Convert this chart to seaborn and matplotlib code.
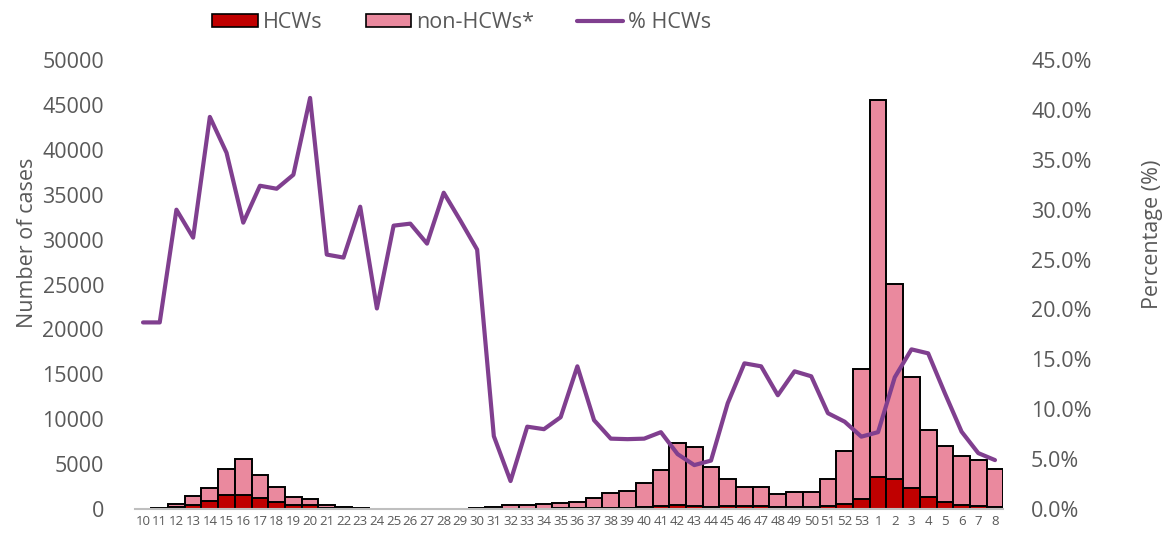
import numpy as np
import pandas as pd
import seaborn as sns
import matplotlib.pyplot as plt
from matplotlib.patches import Patch
from matplotlib.lines import Line2D
from matplotlib.ticker import FuncFormatter

# -------------------------------------------------
# Data
# -------------------------------------------------
weeks = [str(w) for w in range(10, 54)] + [str(w) for w in range(1, 9)]

hcws = [7, 19, 180, 400, 930, 1590, 1600, 1230, 800, 460,
        445, 115, 65, 33, 8, 9, 9, 11, 13, 14,
        18, 14, 11, 39, 45, 62, 112, 109, 125, 138,
        207, 334, 404, 305, 228, 350, 358, 350, 190, 266,
        247, 317, 568, 1131, 3511, 3332, 2357, 1377, 818, 457,
        306, 218]

non_hcws = [33, 81, 420, 1080, 1440, 2860, 3970, 2560, 1680, 910,
            635, 335, 195, 77, 32, 21, 21, 29, 27, 36,
            52, 176, 399, 431, 515, 608, 668, 1111, 1655, 1832,
            2723, 4006, 6946, 6635, 4482, 2950, 2092, 2100, 1480, 1664,
            1613, 2983, 5922, 14469, 42089, 21718, 12373, 7453, 6232, 5443,
            5154, 4232]

pct_hcws = [18.7, 18.7, 30.0, 27.2, 39.3, 35.7, 28.7, 32.4, 32.1, 33.5,
            41.2, 25.5, 25.2, 30.3, 20.1, 28.4, 28.6, 26.6, 31.7, 28.9,
            26.0, 7.3, 2.8, 8.25, 8.0, 9.2, 14.3, 8.9, 7.05, 7.0,
            7.05, 7.7, 5.5, 4.4, 4.85, 10.6, 14.6, 14.3, 11.4, 13.8,
            13.3, 9.6, 8.75, 7.25, 7.7, 13.2, 16.0, 15.6, 11.6, 7.75,
            5.6, 4.9]

df = pd.DataFrame({"week": weeks, "hcws": hcws, "non_hcws": non_hcws,
                   "pct": pct_hcws})
df["total"] = df["hcws"] + df["non_hcws"]

# -------------------------------------------------
# Style
# -------------------------------------------------
sns.set_style("white")
plt.rcParams["font.family"] = ["Open Sans", "DejaVu Sans"]

red = "#C00000"
pink = "#EA899E"
purple = "#803F8F"
grey_txt = "#595959"
fs = 15.5

fig = plt.figure(figsize=(11.66, 5.36), dpi=100)
ax = fig.add_axes([0.1155, 0.0504, 0.745, 0.8376])

# stacked bars: total (pink) behind, HCWs (red) in front
sns.barplot(data=df, x="week", y="total", order=weeks, color=pink,
            saturation=1, edgecolor="black", linewidth=1.4, width=1.0, ax=ax)
sns.barplot(data=df, x="week", y="hcws", order=weeks, color=red,
            saturation=1, edgecolor="black", linewidth=1.4, width=1.0, ax=ax)

ax.set_ylim(0, 50000)
ax.set_xlim(-0.5, len(weeks) - 0.5)
ax.set_yticks(range(0, 50001, 5000))
ax.tick_params(axis="y", labelsize=fs, colors=grey_txt, length=0, pad=22)
ax.tick_params(axis="x", labelsize=9.5, colors=grey_txt, length=0, pad=4)
ax.set_xlabel("")
ax.set_ylabel("Number of cases", fontsize=fs, color=grey_txt, labelpad=3,
              y=0.592)
for s in ["top", "right", "left"]:
    ax.spines[s].set_visible(False)
ax.spines["bottom"].set_color("#BFBFBF")
ax.spines["bottom"].set_linewidth(1.5)

# -------------------------------------------------
# Percentage line on secondary axis
# -------------------------------------------------
ax2 = ax.twinx()
sns.lineplot(x=np.arange(len(weeks)), y=df["pct"], sort=False, color=purple,
             linewidth=3, ax=ax2)
ax2.set_ylim(0, 45)
ax2.set_yticks(np.arange(0, 45.1, 5))
ax2.yaxis.set_major_formatter(FuncFormatter(lambda v, p: f"{v:.1f}%"))
ax2.tick_params(axis="y", labelsize=fs, colors=grey_txt, length=0, pad=20)
ax2.set_ylabel("Percentage (%)", fontsize=fs, color=grey_txt, labelpad=36,
               y=0.612)
for s in ["top", "right", "left", "bottom"]:
    ax2.spines[s].set_visible(False)

# -------------------------------------------------
# Legend
# -------------------------------------------------
handles = [
    Patch(facecolor=red, edgecolor="black", linewidth=1.2, label="HCWs"),
    Patch(facecolor=pink, edgecolor="black", linewidth=1.2, label="non-HCWs*"),
    Line2D([0], [0], color=purple, linewidth=3, label="% HCWs"),
]
fig.legend(handles=handles, loc="center", bbox_to_anchor=(0.396, 0.958),
           ncol=3, frameon=False, fontsize=fs, labelcolor=grey_txt,
           handlelength=2.1, handleheight=0.6, handletextpad=0.25,
           columnspacing=2.0)

plt.savefig("out.png", dpi=100)
